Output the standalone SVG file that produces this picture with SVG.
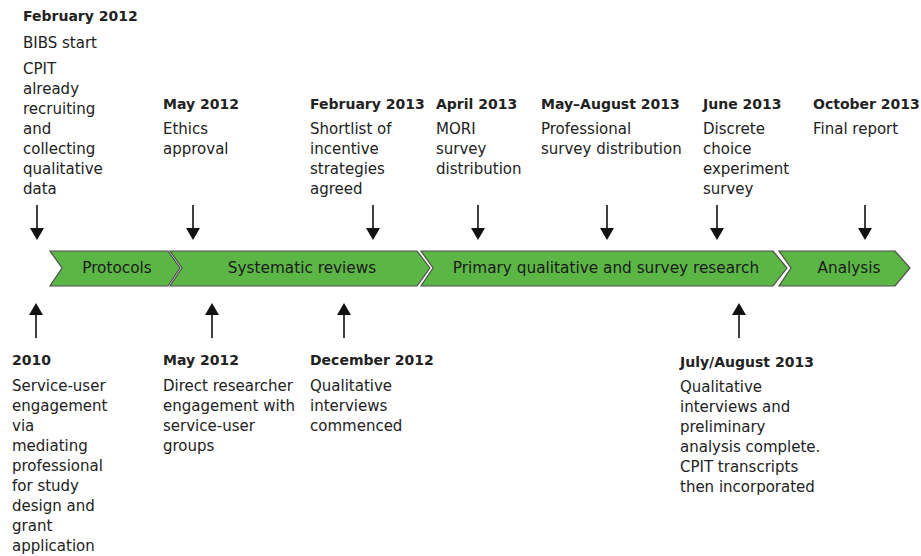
<svg xmlns="http://www.w3.org/2000/svg" width="921" height="556" viewBox="0 0 921 556">
<defs>
<style>
.t{font-family:"DejaVu Sans","Noto Sans",sans-serif;font-size:15px;fill:#222}
.h{font-weight:bold;font-size:14px}
.c{font-family:"DejaVu Sans","Noto Sans",sans-serif;font-size:15.3px;fill:#1a1a1a;text-anchor:middle}
.ch{fill:#5cb646;stroke:#4d4d4d;stroke-width:1.2}
.ar{stroke:#111;stroke-width:1.6;fill:none}
.ah{fill:#111}
</style>
</defs>
<rect width="921" height="556" fill="#fff"/>
<g id="phases">
<g id="protocols"><polygon class="ch" points="50,251 168,251 180,268 168,286 50,286 62,268"/><text class="c" x="117" y="273">Protocols</text></g>
<g id="systematic"><polygon class="ch" points="170,251 417,251 430,268 417,286 170,286 182,268"/><text class="c" x="302" y="273">Systematic reviews</text></g>
<g id="primary"><polygon class="ch" points="421,251 773,251 787,268 773,286 421,286 433,268"/><text class="c" x="606" y="273">Primary qualitative and survey research</text></g>
<g id="analysis"><polygon class="ch" points="779,251 895,251 910,268 895,286 779,286 791,268"/><text class="c" x="849" y="273">Analysis</text></g>
</g>
<g id="connectors">
<path class="ar" d="M37,205V230M193,205V230M373,205V230M478,205V230M607,205V230M717,205V230M865,205V230"/>
<path class="ah" d="M30,228h14l-7,12zM186,228h14l-7,12zM366,228h14l-7,12zM471,228h14l-7,12zM600,228h14l-7,12zM710,228h14l-7,12zM858,228h14l-7,12z"/>
<path class="ar" d="M36,313V338M212,313V338M344,313V338M739,313V338"/>
<path class="ah" d="M29,315h14l-7,-12zM205,315h14l-7,-12zM337,315h14l-7,-12zM732,315h14l-7,-12z"/>
</g>
<g id="e-feb2012"><text class="t h" x="23" y="21">February 2012</text><text class="t" x="23" y="48">BIBS start</text>
<text class="t" x="23" y="74">CPIT</text><text class="t" x="23" y="94">already</text><text class="t" x="23" y="114">recruiting</text><text class="t" x="23" y="134">and</text><text class="t" x="23" y="154">collecting</text><text class="t" x="23" y="174">qualitative</text><text class="t" x="23" y="194">data</text></g>
<g id="e-may2012a"><text class="t h" x="163" y="109">May 2012</text><text class="t" x="163" y="134">Ethics</text><text class="t" x="163" y="154">approval</text></g>
<g id="e-feb2013"><text class="t h" x="310" y="109">February 2013</text><text class="t" x="310" y="134">Shortlist of</text><text class="t" x="310" y="154">incentive</text><text class="t" x="310" y="174">strategies</text><text class="t" x="310" y="194">agreed</text></g>
<g id="e-apr2013"><text class="t h" x="436" y="109">April 2013</text><text class="t" x="436" y="134">MORI</text><text class="t" x="436" y="154">survey</text><text class="t" x="436" y="174">distribution</text></g>
<g id="e-mayaug2013"><text class="t h" x="541" y="109">May–August 2013</text><text class="t" x="541" y="134">Professional</text><text class="t" x="541" y="154">survey distribution</text></g>
<g id="e-jun2013"><text class="t h" x="703" y="109">June 2013</text><text class="t" x="703" y="134">Discrete</text><text class="t" x="703" y="154">choice</text><text class="t" x="703" y="174">experiment</text><text class="t" x="703" y="194">survey</text></g>
<g id="e-oct2013"><text class="t h" x="813" y="109">October 2013</text><text class="t" x="813" y="134">Final report</text></g>
<g id="e-2010"><text class="t h" x="12" y="365">2010</text><text class="t" x="12" y="391">Service-user</text><text class="t" x="12" y="411">engagement</text><text class="t" x="12" y="431">via</text><text class="t" x="12" y="451">mediating</text><text class="t" x="12" y="471">professional</text><text class="t" x="12" y="491">for study</text><text class="t" x="12" y="511">design and</text><text class="t" x="12" y="531">grant</text><text class="t" x="12" y="551">application</text></g>
<g id="e-may2012b"><text class="t h" x="163" y="365">May 2012</text><text class="t" x="163" y="391">Direct researcher</text><text class="t" x="163" y="411">engagement with</text><text class="t" x="163" y="431">service-user</text><text class="t" x="163" y="451">groups</text></g>
<g id="e-dec2012"><text class="t h" x="310" y="365">December 2012</text><text class="t" x="310" y="391">Qualitative</text><text class="t" x="310" y="411">interviews</text><text class="t" x="310" y="431">commenced</text></g>
<g id="e-julaug2013"><text class="t h" x="680" y="367">July/August 2013</text><text class="t" x="680" y="392">Qualitative</text><text class="t" x="680" y="412">interviews and</text><text class="t" x="680" y="432">preliminary</text><text class="t" x="680" y="452">analysis complete.</text><text class="t" x="680" y="472">CPIT transcripts</text><text class="t" x="680" y="492">then incorporated</text></g>
</svg>
